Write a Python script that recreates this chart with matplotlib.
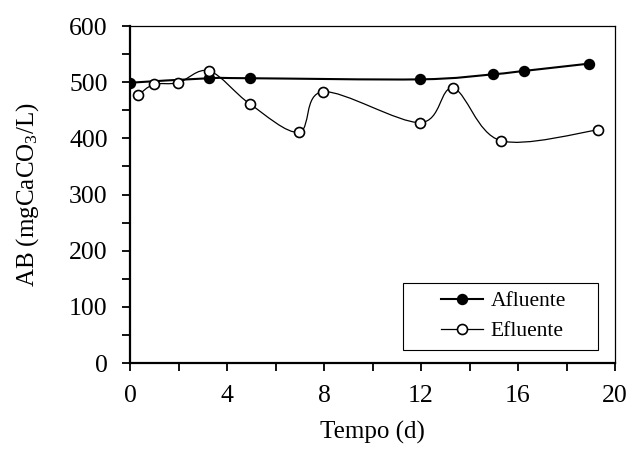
import numpy as np
import matplotlib
matplotlib.use("Agg")
import matplotlib.pyplot as plt
from matplotlib.path import Path
from matplotlib.patches import PathPatch, Rectangle
from matplotlib.lines import Line2D

plt.rcParams['font.family'] = ['Liberation Serif', 'DejaVu Serif']
plt.rcParams['mathtext.fontset'] = 'custom'
plt.rcParams['mathtext.rm'] = 'Liberation Serif'
plt.rcParams['mathtext.it'] = 'Liberation Serif:italic'

# Data
afl_t = [0, 3.26, 4.95, 11.96, 14.97, 16.25, 18.93]
afl_v = [499, 507, 507, 505, 514, 520, 533]
efl_t = [0.34, 0.98, 1.99, 3.27, 4.95, 6.97, 7.97, 11.96, 13.33, 15.28, 19.31]
efl_v = [477, 496, 499, 520, 461, 411, 483, 428, 489, 396, 415]

x_ticks = [0, 4, 8, 12, 16, 20]
y_ticks = [0, 100, 200, 300, 400, 500, 600]


def smooth_path(xs, ys):
    p = np.column_stack([xs, ys]).astype(float)
    n = len(p)
    verts = [p[0]]
    codes = [Path.MOVETO]
    for i in range(n - 1):
        p0 = p[i - 1] if i > 0 else p[i]
        p3 = p[i + 2] if i + 2 < n else p[i + 1]
        c1 = p[i] + (p[i + 1] - p0) / 6.0
        c2 = p[i + 1] - (p3 - p[i]) / 6.0
        verts += [c1, c2, p[i + 1]]
        codes += [Path.CURVE4] * 3
    return Path(verts, codes)


fig = plt.figure(figsize=(6.32, 4.73), dpi=100)
ax = fig.add_axes([130 / 632, 110 / 473, 485 / 632, 337 / 473])

ax.add_patch(PathPatch(smooth_path(afl_t, afl_v), facecolor='none',
                       edgecolor='black', lw=1.5, zorder=2))
ax.plot(afl_t, afl_v, ls='none', marker='o', ms=7.2, mfc='black',
        mec='black', zorder=3)
ax.add_patch(PathPatch(smooth_path(efl_t, efl_v), facecolor='none',
                       edgecolor='black', lw=0.9, zorder=4))
ax.plot(efl_t, efl_v, ls='none', marker='o', ms=7.2, mfc='white',
        mec='black', mew=1.2, zorder=5)

ax.set_xlim(0, 20)
ax.set_ylim(0, 600)
ax.set_xticks(x_ticks)
ax.set_yticks(y_ticks)
ax.set_xticks(np.arange(2, 20, 4), minor=True)
ax.set_yticks(np.arange(50, 600, 100), minor=True)
ax.tick_params(which='both', direction='out', length=6, width=1.3,
               labelsize=18.5, color='black')
ax.tick_params(axis='x', pad=10)
ax.tick_params(axis='y', pad=10)

for s in ['left', 'bottom']:
    ax.spines[s].set_linewidth(1.6)
for s in ['top', 'right']:
    ax.spines[s].set_linewidth(0.9)

ax.set_xlabel('Tempo (d)', fontsize=18, labelpad=10)
ax.set_ylabel(r'AB (mgCaCO$_3$/L)', fontsize=18, labelpad=20)

# legend frame
ax.add_patch(Rectangle((0.563, 0.0386), 0.402, 0.199, transform=ax.transAxes,
                       facecolor='white', edgecolor='black', lw=0.8, zorder=6))
handles = [
    Line2D([], [], color='black', lw=1.5, marker='o', ms=7.2, mfc='black', mec='black'),
    Line2D([], [], color='black', lw=0.9, marker='o', ms=7.2, mfc='white', mec='black', mew=1.2),
]
leg = ax.legend(handles, ['Afluente', 'Efluente'], loc='center',
                bbox_to_anchor=(0.770, 0.139), fontsize=15.5, frameon=False,
                handlelength=1.95, handletextpad=0.33, borderpad=0.0,
                labelspacing=0.45, borderaxespad=0)
leg.set_zorder(7)

fig.savefig('out.png', dpi=100)
